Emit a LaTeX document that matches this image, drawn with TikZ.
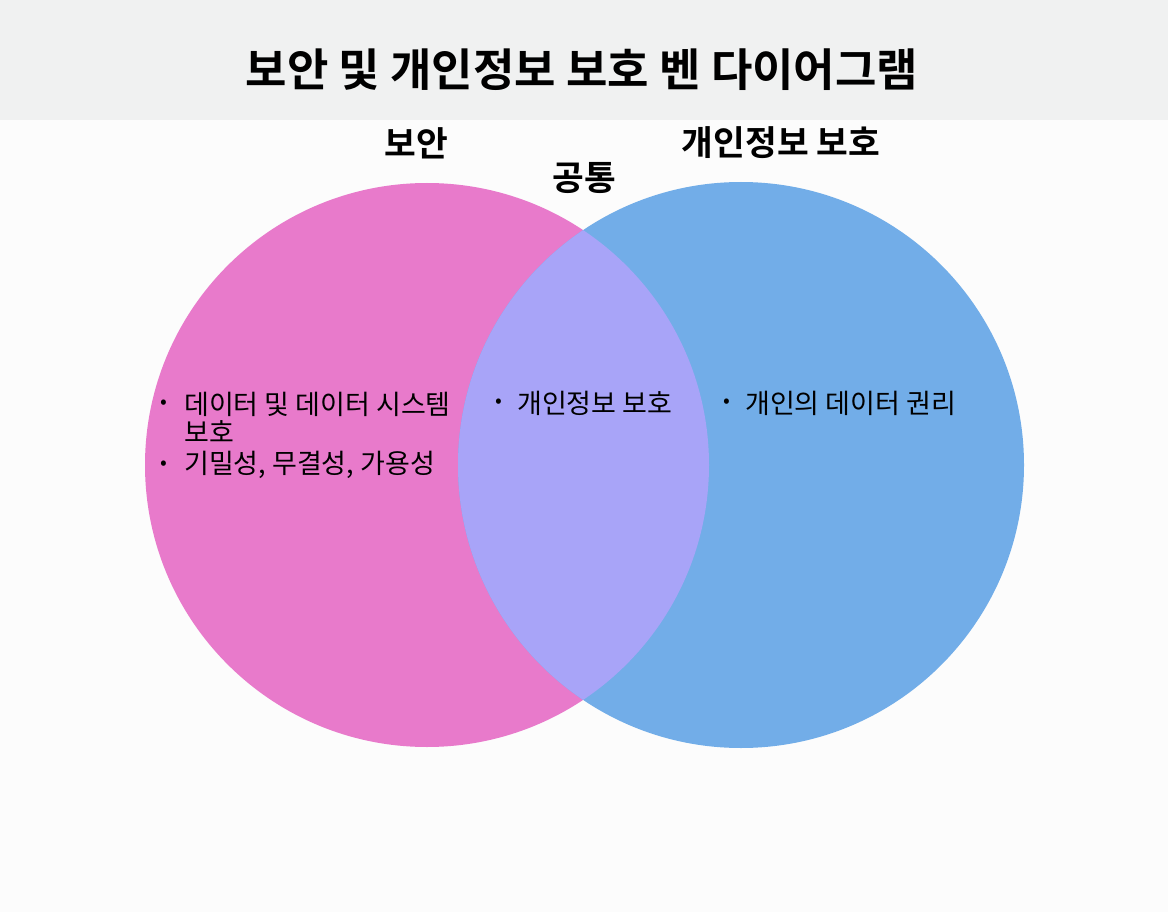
\documentclass[tikz,border=0pt]{standalone}
\usepackage{fontspec}
\setmainfont{Noto Sans CJK KR}
\newfontfamily\krbold{Noto Sans CJK KR Bold}
\definecolor{secpink}{HTML}{E87ACB}
\definecolor{privblue}{HTML}{72ADE8}
\definecolor{common}{HTML}{A8A4F8}
\definecolor{band}{HTML}{F0F1F1}

\tikzset{   cirpink/.style={fill=secpink,draw=none},
            cirblue/.style={fill=privblue,draw=none},
            setlabel/.style={font=\krbold\fontsize{34.5}{40}\selectfont,inner sep=0pt},
            itemtext/.style={font=\fontsize{27}{32}\selectfont,anchor=west,inner sep=0pt},
            dot/.style={font=\fontsize{20}{24}\selectfont,inner sep=0pt},
}

\begin{document}
\begin{tikzpicture}[x=1pt,y=-1pt]
    \useasboundingbox (0,0) rectangle (1168,912);
    \fill[white!99!black] (0,0) rectangle (1168,912);   % background
    \fill[band] (0,0) rectangle (1168,120);              % title band

    \node[font=\krbold\fontsize{45}{52}\selectfont] (title) at (582,70) {보안 및 개인정보 보호 벤 다이어그램};

    \fill[cirpink] (427,465) circle (282);   % circles
    \fill[cirblue] (741,465) circle (283);
    \begin{scope}
        \clip (427,465) circle (282);
        \fill[common] (741,465) circle (283);
    \end{scope}

    \node[setlabel] (secl) at (416,143) {보안};   % set labels
    \node[setlabel] (privl) at (781,143) {개인정보 보호};
    \node[setlabel] (coml) at (584,178) {공통};

    \node[dot] (b1) at (164,404) {•};   % left items
    \node[itemtext] (t1) at (184,404) {데이터 및 데이터 시스템};
    \node[itemtext] (t1b) at (184,432) {보호};
    \node[dot] (b2) at (164,465) {•};
    \node[itemtext] (t2) at (184,465) {기밀성, 무결성, 가용성};

    \node[dot] (b3) at (499,403) {•};   % common item
    \node[itemtext] (t3) at (517,403) {개인정보 보호};

    \node[dot] (b4) at (727,403) {•};   % right item
    \node[itemtext] (t4) at (745,403) {개인의 데이터 권리};
\end{tikzpicture}
\end{document}
